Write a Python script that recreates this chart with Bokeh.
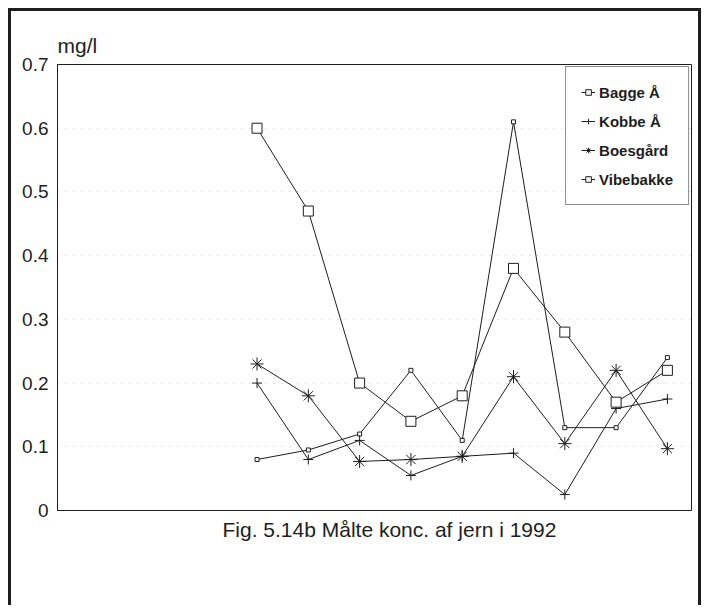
from bokeh.plotting import figure
from bokeh.layouts import column
from bokeh.models import Range1d, FixedTicker, Legend, LegendItem, Title
from bokeh.embed import file_html
from bokeh.resources import INLINE

# ---- data ----
months = [4, 5, 6, 7, 8, 9, 10, 11, 12]
bagge = [0.08, 0.095, 0.12, 0.22, 0.11, 0.61, 0.13, 0.13, 0.24]
kobbe = [0.20, 0.08, 0.11, 0.055, 0.085, 0.09, 0.025, 0.16, 0.175]
boesgaard = [0.23, 0.18, 0.077, 0.08, 0.085, 0.21, 0.105, 0.22, 0.097]
vibebakke = [0.60, 0.47, 0.20, 0.14, 0.18, 0.38, 0.28, 0.17, 0.22]
series_names = ["Bagge Å", "Kobbe Å", "Boesgård", "Vibebakke"]
y_ticks = [0, 0.1, 0.2, 0.3, 0.4, 0.5, 0.6, 0.7]
y_tick_labels = ["0", "0.1", "0.2", "0.3", "0.4", "0.5", "0.6", "0.7"]
unit_label = "mg/l"
caption = "Fig. 5.14b Målte konc. af jern i 1992"

FONT = "Liberation Sans"
INK = "#1e1e1e"
frame_border = "3px solid #1e1e1e"

p = figure(width=687, height=594, output_backend="svg", toolbar_location=None,
           x_range=Range1d(0.11, 12.47), y_range=Range1d(0, 0.7),
           min_border_left=46, min_border_right=7, min_border_top=53,
           min_border_bottom=95)
p.background_fill_color = "white"
p.border_fill_color = "white"
p.outline_line_color = INK
p.outline_line_width = 1

p.xaxis.visible = False
p.xgrid.visible = False
p.ygrid.grid_line_color = "#c4c4c4"
p.ygrid.grid_line_dash = "1 7"
p.ygrid.ticker = FixedTicker(ticks=y_ticks)

ya = p.yaxis[0]
ya.ticker = FixedTicker(ticks=y_ticks)
ya.major_label_overrides = {t: l for t, l in zip(y_ticks, y_tick_labels)}
ya.major_tick_out = 0
ya.major_tick_in = 0
ya.minor_tick_out = 0
ya.minor_tick_in = 0
ya.major_label_standoff = 9
ya.axis_line_color = INK
ya.major_label_text_font = FONT
ya.major_label_text_font_size = "19px"
ya.major_label_text_color = INK

p.title.text = unit_label
p.title.align = "left"
p.title.text_font = FONT
p.title.text_font_size = "21px"
p.title.text_font_style = "normal"
p.title.text_color = INK
p.title.standoff = 16

cap = Title(text=caption, align="left", offset=165, text_font=FONT,
            text_font_size="21px", text_font_style="normal", text_color=INK,
            standoff=10)
p.add_layout(cap, "below")

styles = [
    dict(marker="square", size=4),
    dict(marker="cross", size=10),
    dict(marker="asterisk", size=13),
    dict(marker="square", size=10),
]
items = []
for name, vals, st in zip(series_names, [bagge, kobbe, boesgaard, vibebakke], styles):
    lr = p.line(months, vals, line_color=INK, line_width=1)
    sr = p.scatter(months, vals, marker=st["marker"], size=st["size"],
                   line_color=INK, fill_color="white", line_width=1)
    items.append(LegendItem(label=name, renderers=[lr, sr]))

legend = Legend(items=items, location="top_right", margin=2,
                padding=15, spacing=9, label_height=20, glyph_height=20,
                glyph_width=14, label_standoff=4,
                label_text_font=FONT, label_text_font_size="15px",
                label_text_font_style="bold", label_text_color=INK,
                border_line_color=INK, border_line_width=1,
                background_fill_color="white", background_fill_alpha=1)
p.add_layout(legend, "center")

layout = column(p, styles={"border-left": frame_border, "border-top": frame_border,
                           "border-right": frame_border,
                           "margin-left": "8px", "margin-top": "8px"})

open("out.html", "w").write(file_html(layout, INLINE))
